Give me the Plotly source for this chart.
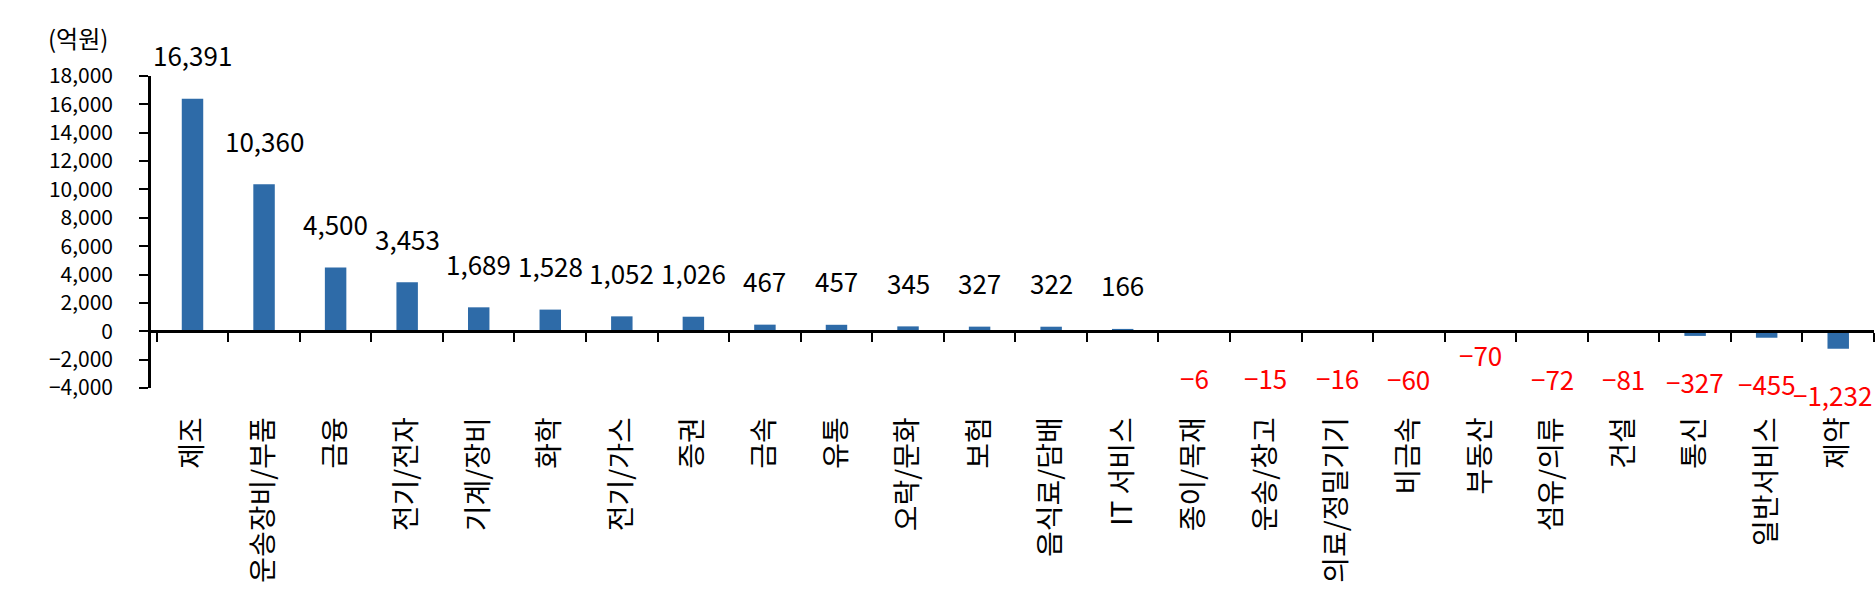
import plotly.graph_objects as go

categories = ["제조", "운송장비/부품", "금융", "전기/전자", "기계/장비", "화학", "전기/가스", "증권",
              "금속", "유통", "오락/문화", "보험", "음식료/담배", "IT 서비스", "종이/목재", "운송/창고",
              "의료/정밀기기", "비금속", "부동산", "섬유/의류", "건설", "통신", "일반서비스", "제약"]
values = [16391, 10360, 4500, 3453, 1689, 1528, 1052, 1026, 467, 457, 345, 327, 322, 166,
          -6, -15, -16, -60, -70, -72, -81, -327, -455, -1232]
y_ticks = list(range(-4000, 18001, 2000))
unit_label = "(억원)"

FONT = "Noto Sans CJK KR"
BAR_COLOR = "#2e6ba8"
label_nudge_y = {"부동산": 24}
label_nudge_x = {"제약": -6}
Y_RANGE = [-4000, 18000]
W, H = 1876, 608
M_L, M_R, M_T, M_B = 113, 2, 76, 220
PLOT_LEFT = 151
x_dom0 = (PLOT_LEFT - M_L) / (W - M_L - M_R)

fig = go.Figure()
fig.add_trace(go.Bar(
    x=categories, y=values, width=0.30,
    marker=dict(color=BAR_COLOR, line=dict(width=0)),
    hoverinfo="x+y",
))
# empty trace so the overlay axis carrying the tick labels is drawn
fig.add_trace(go.Scatter(x=[], y=[], yaxis="y2", showlegend=False, hoverinfo="skip"))

for c, v in zip(categories, values):
    txt = f"{v:,}".replace("-", "\u2212")
    if v >= 0:
        fig.add_annotation(x=c, y=v, text=txt, showarrow=False, yanchor="middle",
                           yshift=44, xshift=label_nudge_x.get(c, 0),
                           font=dict(family=FONT, size=26, color="black"))
    else:
        fig.add_annotation(x=c, y=v, text=txt, showarrow=False, yanchor="middle",
                           yshift=-46 + label_nudge_y.get(c, 0), xshift=label_nudge_x.get(c, 0),
                           font=dict(family=FONT, size=26, color="#ff0000"))

fig.add_annotation(xref="paper", yref="paper", x=(78 - M_L) / (W - M_L - M_R), y=1.0, yshift=39,
                   text=unit_label, showarrow=False, xanchor="center", yanchor="middle",
                   font=dict(family=FONT, size=24, color="black"))

fig.update_layout(
    width=W, height=H,
    margin=dict(l=M_L, r=M_R, t=M_T, b=M_B),
    paper_bgcolor="white", plot_bgcolor="white",
    showlegend=False,
    font=dict(family=FONT, size=25, color="black"),
    xaxis=dict(
        domain=[x_dom0, 1],
        anchor="free", position=-Y_RANGE[0] / (Y_RANGE[1] - Y_RANGE[0]),
        showline=True, linecolor="black", linewidth=2.5,
        ticks="outside", tickson="boundaries", ticklen=9, tickwidth=2, tickcolor="black",
        tickangle=-90, ticklabelstandoff=73, automargin=False,
        tickfont=dict(family=FONT, size=28, color="black"),
        showgrid=False, zeroline=False,
    ),
    yaxis=dict(
        range=Y_RANGE, tickvals=y_ticks, showticklabels=False,
        showline=True, linecolor="black", linewidth=2.5,
        ticks="outside", ticklen=9, tickwidth=2, tickcolor="black",
        automargin=False, showgrid=False, zeroline=False,
    ),
    yaxis2=dict(
        overlaying="y", anchor="free", position=0, side="left", autoshift=False,
        range=Y_RANGE, tickvals=y_ticks, tickformat=",",
        showline=False, ticks="",
        tickfont=dict(family=FONT, size=21, color="black"),
        automargin=False, showgrid=False, zeroline=False,
    ),
)

fig.write_html("out.html", post_script="document.body.style.margin='0';",
               config={"displayModeBar": False})
